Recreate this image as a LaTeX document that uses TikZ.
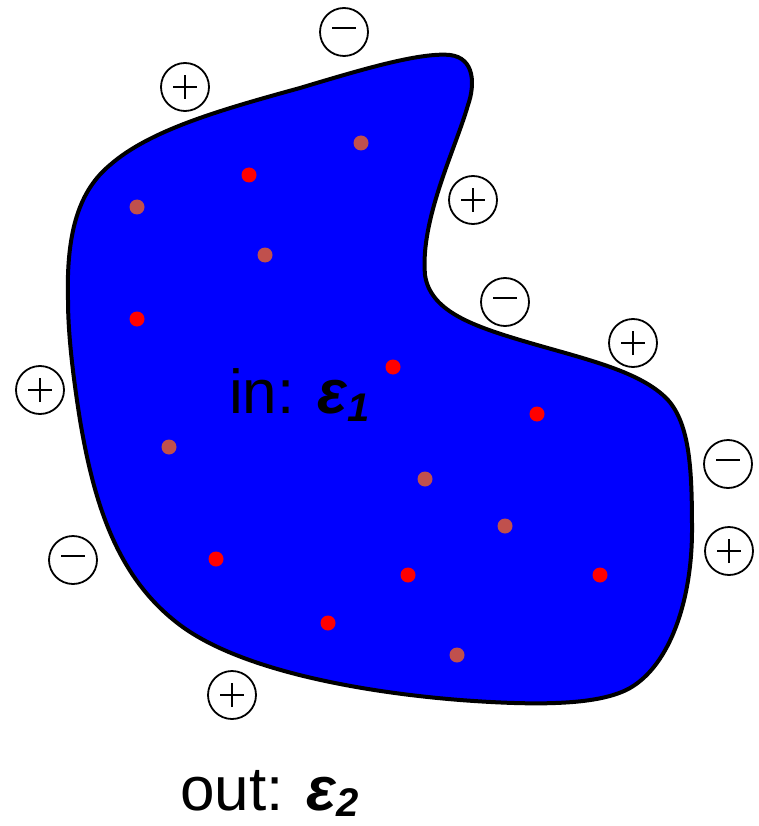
\documentclass[tikz,border=0pt]{standalone}
\usepackage{fontspec}
\setmainfont{Liberation Sans}
\definecolor{dotbrown}{RGB}{192,80,77}
\definecolor{blobblue}{RGB}{0,0,255}
\tikzset{
  chg/.style={circle,draw,line width=1.8pt,minimum size=48pt,inner sep=0pt},
  plusc/.style={chg, path picture={\draw[line width=2pt]
     ([xshift=-12pt]path picture bounding box.center) -- ++(24pt,0pt)
     ([yshift=-12pt]path picture bounding box.center) -- ++(0pt,24pt);}},
  minusc/.style={chg, path picture={\draw[line width=2pt]
     ([xshift=-12pt,yshift=4pt]path picture bounding box.center) -- ++(24pt,0pt);}},
  reddot/.style={circle,fill=red,minimum size=15pt,inner sep=0pt},
  browndot/.style={circle,fill=dotbrown,minimum size=15pt,inner sep=0pt},
  lbl/.style={font=\fontsize{62}{62}\selectfont,inner sep=0pt,anchor=base west}
}
\begin{document}
\begin{tikzpicture}[x=1pt,y=-1pt]
\useasboundingbox (0,0) rectangle (759,826);
% blob
\draw[line width=4pt,fill=blobblue,line join=round]
  (68,300) .. controls (66,230) and (80,190) .. (110,165)
  .. controls (150,130) and (220,110) .. (300,88)
  .. controls (360,70) and (420,52) .. (450,55)
  .. controls (475,58) and (475,85) .. (468,105)
  .. controls (455,150) and (420,220) .. (425,275)
  .. controls (430,310) and (470,325) .. (520,340)
  .. controls (580,358) and (640,370) .. (668,400)
  .. controls (690,425) and (692,470) .. (692,530)
  .. controls (692,600) and (670,665) .. (630,688)
  .. controls (600,705) and (540,706) .. (460,700)
  .. controls (360,692) and (240,670) .. (180,625)
  .. controls (120,580) and (95,510) .. (80,420)
  .. controls (72,370) and (68,330) .. (68,300) -- cycle;
% charges
\node[minusc] (c1) at (344,32) {};
\node[plusc]  (c2) at (185,87) {};
\node[plusc]  (c3) at (473,200) {};
\node[minusc] (c4) at (505,302) {};
\node[plusc]  (c5) at (633,343) {};
\node[plusc]  (c6) at (40,390) {};
\node[minusc] (c7) at (728,464) {};
\node[plusc]  (c8) at (729,551) {};
\node[minusc] (c9) at (73,560) {};
\node[plusc]  (c10) at (232,695) {};
% dots
\node[reddot] (r1) at (249,175) {};
\node[reddot] (r2) at (137,319) {};
\node[reddot] (r3) at (393,367) {};
\node[reddot] (r4) at (537,414) {};
\node[reddot] (r5) at (216,559) {};
\node[reddot] (r6) at (408,575) {};
\node[reddot] (r7) at (600,575) {};
\node[reddot] (r8) at (328,623) {};
\node[browndot] (b1) at (361,143) {};
\node[browndot] (b2) at (137,207) {};
\node[browndot] (b3) at (265,255) {};
\node[browndot] (b4) at (169,447) {};
\node[browndot] (b5) at (425,479) {};
\node[browndot] (b6) at (505,526) {};
\node[browndot] (b7) at (457,655) {};
% labels
\node[lbl] (tin) at (229,413) {in: \textbf{\textit{ε\raisebox{-0.25ex}{\fontsize{40}{40}\selectfont 1}}}};
\node[lbl] (tout) at (180,810) {out: \textbf{\textit{ε\raisebox{-0.2ex}{\fontsize{40}{40}\selectfont 2}}}};
\end{tikzpicture}
\end{document}
